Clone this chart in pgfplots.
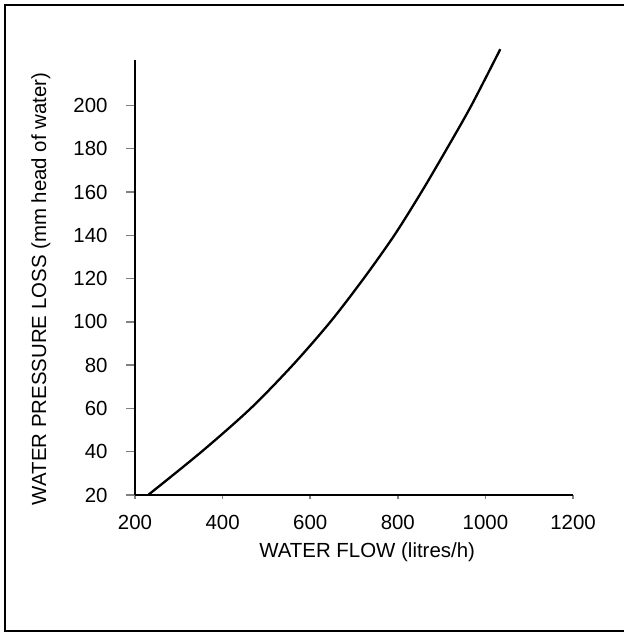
\documentclass[border=0pt]{standalone}
\usepackage{fontspec}
\setmainfont{Liberation Sans}
\usepackage{pgfplots}
\pgfplotsset{compat=1.18}

\pgfplotstableread{
flow  loss
230   20
352   40
464   60
560   80
646   100
722   120
792   140
854   160
912   180
968   200
1034  226
}\losscurve

\pgfplotsset{frame/.style={
  at={(135bp,137bp)}, anchor=south west,
  scale only axis, width=438bp, height=435bp,
  xmin=200, xmax=1200, ymin=20, ymax=221,
  clip=false,
  axis x line=bottom, axis y line=left,
  axis line style={-, line width=1.8bp},
  tick align=outside,
  xtick={200,400,...,1200}, ytick={20,40,...,200},
}}

\begin{document}
\begin{tikzpicture}[x=1bp,y=1bp]
\useasboundingbox (0,0) rectangle (624,632);
% scanned frame: left, top, bottom
\draw[line width=2.2bp] (624,627) -- (5,627) -- (5,1) -- (624,1);
% short ticks on the flow axis
\begin{axis}[frame,
  major tick length=4bp,
  x tick style={line width=1.5bp},
  y tick style={draw=none},
  xticklabels={}, yticklabels={},
]
\end{axis}
\begin{axis}[frame,
  major tick length=9bp,
  x tick style={draw=none},
  y tick style={line width=1.5bp},
  font=\fontsize{20.5}{24}\selectfont,
  /pgf/number format/assume math mode=true,
  /pgf/number format/1000 sep={},
  yticklabel style={xshift=-15bp},
  xticklabel style={yshift=-8bp},
  xlabel={WATER FLOW (litres/h)},
  ylabel={WATER PRESSURE LOSS (mm head of water)},
  every axis x label/.style={at={(axis description cs:0.53,-0.131)}, anchor=center},
  every axis y label/.style={at={(axis description cs:-0.215,0.474)}, rotate=90, anchor=center},
]
\addplot[black, line width=2.3bp, smooth] table[x=flow, y=loss] {\losscurve};
\end{axis}
\end{tikzpicture}
\end{document}
